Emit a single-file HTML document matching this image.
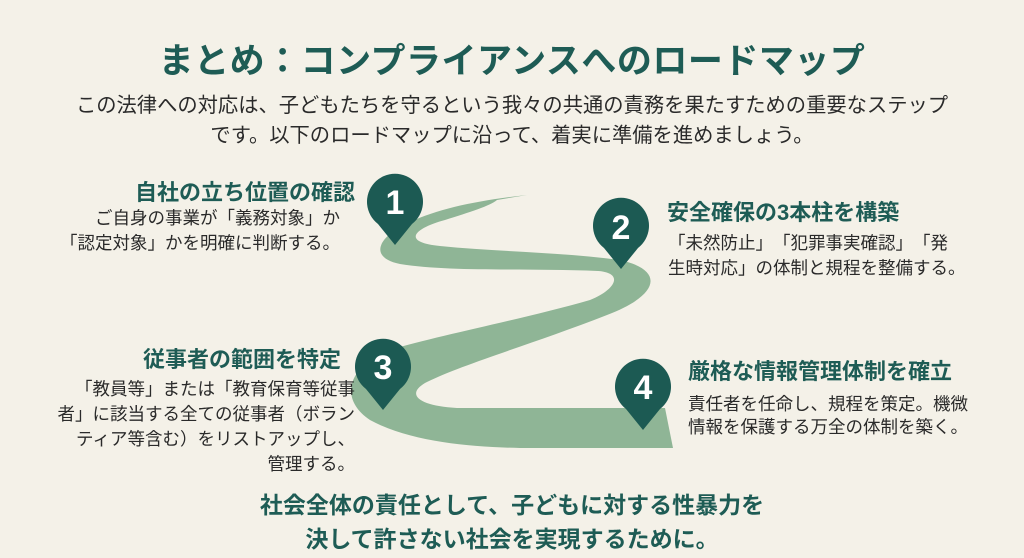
<!DOCTYPE html>
<html><head><meta charset="utf-8"><style>
body{margin:0;width:1024px;height:558px;background:#f4f1e8;position:relative;overflow:hidden;font-family:"Liberation Sans","Noto Sans CJK JP",sans-serif;text-spacing-trim:space-all;}
.t{position:absolute;white-space:nowrap;}
.h{color:#1e5c55;font-weight:bold;font-size:22px;}
.b{color:#2a2a2a;font-size:17.5px;line-height:25px;}
</style></head><body>
<div class="t" style="left:0;width:1024px;text-align:center;top:33px;font-size:35px;font-weight:bold;color:#1e5c55;letter-spacing:0.5px">まとめ：コンプライアンスへのロードマップ</div>
<div class="t" style="left:0;width:1024px;text-align:center;top:91px;font-size:20.3px;line-height:30px;color:#2a2a2a">この法律への対応は、子どもたちを守るという我々の共通の責務を果たすための重要なステップ<br>です。以下のロードマップに沿って、着実に準備を進めましょう。</div>

<svg style="position:absolute;left:0;top:0" width="1024" height="558">
<path fill="#8fb596" d="M527,195 C480,200 440,208 410,222 C375,238 370,258 400,264 C450,272 520,268 598,271 C625,273 615,290 590,300 C520,320 440,335 390,350 C345,368 340,400 370,420 C410,442 470,447 520,448 L673,448 L665,408 L457,408 C420,406 405,395 425,383 C460,365 530,345 607,315 C660,295 665,270 620,260 C560,252 500,252 440,246 C400,242 415,228 445,220 C470,212 490,206 497,200 Z"/>
<g fill="#1c5a53">
<path d="M395,245 L378,224 A28,28 0 1 1 412,224 Z"/>
<path d="M621,269 L604,248 A28,28 0 1 1 638,248 Z"/>
<path d="M383,410 L366,389 A28,28 0 1 1 400,389 Z"/>
<path d="M643,430 L626,409 A28,28 0 1 1 660,409 Z"/>
</g>
<g fill="#fff" font-family="Liberation Sans, sans-serif" font-weight="bold" font-size="34" text-anchor="middle">
<text x="395" y="214">1</text><text x="621" y="239">2</text><text x="383" y="379">3</text><text x="643" y="399">4</text>
</g>
</svg>

<div class="t h" style="right:669px;top:175px">自社の立ち位置の確認</div>
<div class="t b" style="right:684px;top:206px;text-align:right">ご自身の事業が「義務対象」か<br>「認定対象」かを明確に判断する。</div>

<div class="t h" style="left:667px;top:195px">安全確保の3本柱を構築</div>
<div class="t b" style="left:668px;top:231px">「未然防止」「犯罪事実確認」「発<br>生時対応」の体制と規程を整備する。</div>

<div class="t h" style="right:683px;top:342px">従事者の範囲を特定</div>
<div class="t b" style="right:669px;top:377px;text-align:right">「教員等」または「教育保育等従事<br>者」に該当する全ての従事者（ボラン<br>ティア等含む）をリストアップし、<br>管理する。</div>

<div class="t h" style="left:688px;top:354px">厳格な情報管理体制を確立</div>
<div class="t b" style="left:688px;top:393px;line-height:23px">責任者を任命し、規程を策定。機微<br>情報を保護する万全の体制を築く。</div>

<div class="t" style="left:0;width:1024px;text-align:center;top:488px;font-size:23px;line-height:34px;font-weight:bold;color:#1e5c55">社会全体の責任として、子どもに対する性暴力を<br>決して許さない社会を実現するために。</div>
</body></html>
